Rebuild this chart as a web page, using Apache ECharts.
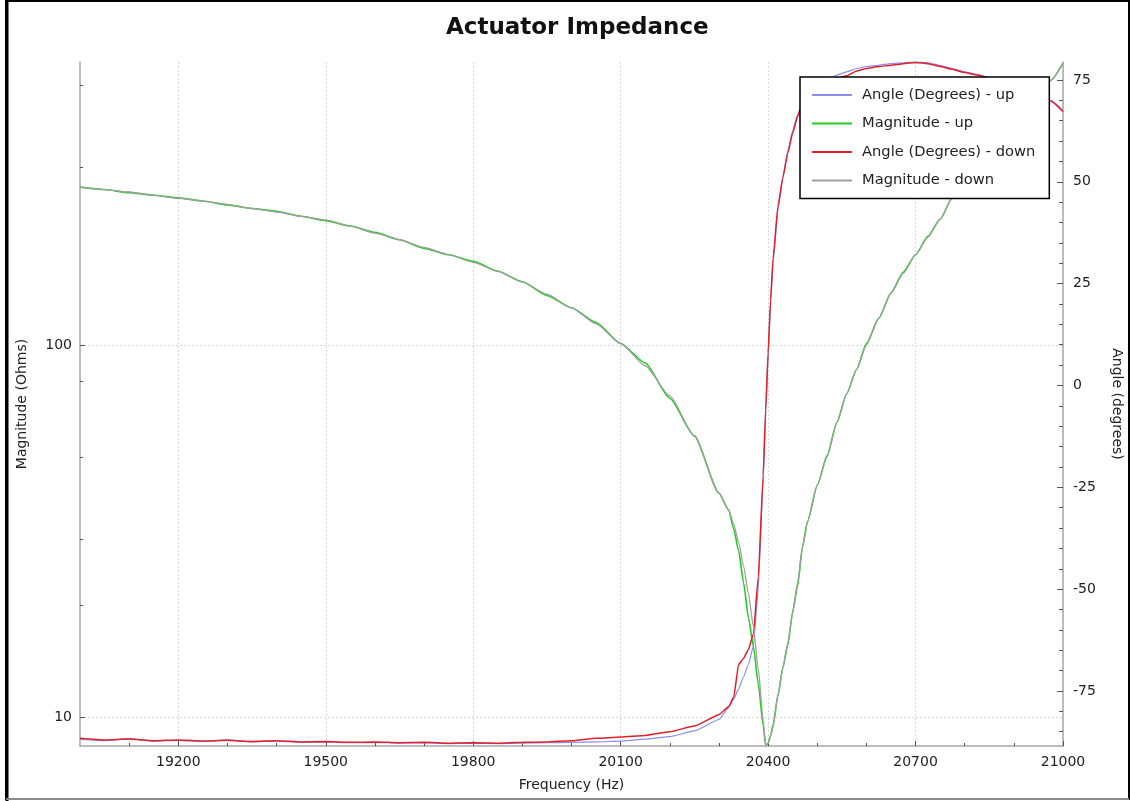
<!DOCTYPE html>
<html><head><meta charset="utf-8">
<script src="https://cdn.jsdelivr.net/npm/echarts@6/dist/echarts.min.js"></script>
<style>html,body{margin:0;padding:0;background:#fff}#c{width:1130px;height:801px}</style>
</head><body><div id="c"></div>
<script>
// ---- data ----
const freq = [19000,19050,19100,19150,19200,19250,19300,19350,19400,19450,19500,19550,19600,19650,19700,19750,19800,19850,19900,19950,20000,20050,20100,20150,20200,20250,20300,
  20320,20330,20340,20350,20360,20370,20380,20390,20395,20400,20405,20410,20420,20430,20440,20450,20460,20470,20480,
  20500,20520,20540,20560,20580,20600,
  20625,20650,20675,20700,20725,20750,20775,20800,20825,20850,20875,20900,20925,20950,20975,21000];

const angleUp = [-86.9,-87.2,-86.7,-87.3,-87.1,-87.4,-87.0,-87.5,-87.3,-87.6,-87.5,-87.7,-87.6,-87.8,-87.7,-87.9,-87.8,-87.9,-87.8,-87.7,-87.6,-87.5,-87.3,-86.8,-86.2,-84.8,-82.0,
  -79.0,-77.0,-74.5,-71.5,-68.5,-64.0,-50.0,-23.0,-7.0,7.0,20.0,30.0,43.0,51.0,57.5,62.5,66.5,69.5,71.5,
  73.5,75.0,76.2,77.0,77.8,78.3,
  78.6,79.0,79.2,79.5,79.2,78.6,77.8,77.0,76.3,75.6,74.6,73.6,72.5,71.2,70.0,67.5];

const magnitudeUp = [266,262,257,253,249,244,238,233,229,222,216,209,201,192,182,175,168,158,148,136,126,115,101,89.5,72,57,40,
  36,32,28,23,18.5,15.5,12.3,9.5,8.4,8.5,8.9,9.5,11.4,13.6,15.6,19.2,22.5,28.8,33.5,
  42,50.5,62,74,86,101,
  118,138,157,175,196,218,249,275,302,331,363,398,432,468,515,573];

const angleDown = [-86.6,-87.0,-86.8,-87.2,-87.0,-87.3,-87.1,-87.4,-87.2,-87.5,-87.4,-87.6,-87.5,-87.7,-87.6,-87.8,-87.7,-87.8,-87.6,-87.5,-87.2,-86.6,-86.3,-85.9,-85.0,-83.6,-80.8,
  -78.8,-76.5,-68.5,-67.0,-64.8,-61.0,-47.0,-22.0,-6.0,8.0,21.0,31.0,44.0,51.0,57.0,62.0,66.0,69.0,71.0,
  73.0,74.3,75.3,76.0,77.2,77.8,
  78.3,78.6,79.0,79.3,79.0,78.3,77.6,76.8,76.2,75.5,74.5,73.5,72.3,71.0,69.8,67.2];

const magnitudeDown = [266,262,258,253,248,244,239,233,228,222,217,209,200,192,183,175,167,158,148,137,126,114,101,88,73,57,40,
  36,33,29.5,25.5,21.5,17.5,13.5,9.8,8.4,8.5,8.9,9.4,11.5,13.5,15.8,19,23,28.5,33.5,
  42,50,62,74,86,100,
  118,138,156,175,195,218,250,275,302,331,363,398,432,468,515,573];

const freqTickLabels = [19200,19500,19800,20100,20400,20700,21000];
const magnitudeTickLabels = [10,100];
const magnitudeMinorTicks = [20,30,50,80,300,500];
const angleTickLabels = [-75,-50,-25,0,25,50,75];

// ---- axis ranges ----
const freqMin = 19000, freqMax = 21000;
const magMin = 8.36, magMax = 577;
const angMin = -88.5, angMax = 79.4;

const freqMinor = [];
for (let f = 19100; f <= 21000; f += 100) freqMinor.push(f);
const angMinor = [];
for (let a = -85; a <= 75; a += 5) angMinor.push(a);

const L = Math.log10;
const pairs = (vals, tf) => freq.map((f, i) => [f, tf ? tf(vals[i]) : vals[i]]);

const font = 'DejaVu Sans';
const txt = '#222';
const axisGrey = '#a8a8a8';

const chart = echarts.init(document.getElementById('c'), null, {renderer: 'canvas'});
chart.setOption({
  animation: false,
  backgroundColor: '#fff',
  textStyle: {fontFamily: font},
  title: {
    text: 'Actuator Impedance', left: 441, top: 12,
    textStyle: {fontFamily: font, fontSize: 23, fontWeight: 'bold', color: '#111'}
  },
  graphic: [{
    type: 'rect', silent: true, z: 100,
    shape: {x: 6, y: 1, width: 1123, height: 798},
    style: {fill: 'none', stroke: '#000', lineWidth: 2}
  }, {
    type: 'line', silent: true, z: 101,
    shape: {x1: 7, y1: 0, x2: 7, y2: 801},
    style: {stroke: '#000', lineWidth: 3}
  }, {
    type: 'line', silent: true, z: 101,
    shape: {x1: 6, y1: 799, x2: 1129, y2: 799},
    style: {stroke: '#8a8a8a', lineWidth: 2}
  }],
  legend: {
    orient: 'vertical', left: 800, top: 77,
    backgroundColor: '#fff', borderColor: '#000', borderWidth: 1.5,
    padding: [10, 14, 10, 12],
    icon: 'rect',
    itemWidth: 40, itemHeight: 2, itemGap: 12.5,
    textStyle: {fontFamily: font, fontSize: 14.7, color: txt, lineHeight: 16, padding: [0, 0, 0, 5]},
    data: ['Angle (Degrees) - up', 'Magnitude - up', 'Angle (Degrees) - down', 'Magnitude - down']
  },
  grid: {left: 80, right: 67, top: 62, bottom: 55, outerBoundsMode: 'none', containLabel: false},
  xAxis: [{
    type: 'value', min: freqMin, max: freqMax,
    name: 'Frequency (Hz)', nameLocation: 'middle', nameGap: 32,
    nameTextStyle: {fontFamily: font, fontSize: 14, color: txt},
    axisLine: {show: true, onZero: false, lineStyle: {color: axisGrey, width: 1.5}},
    axisTick: {show: true, inside: true, length: 5, customValues: freqTickLabels, lineStyle: {color: '#555'}},
    axisLabel: {customValues: freqTickLabels, fontFamily: font, fontSize: 14, color: txt, margin: 9,
      formatter: v => String(v)},
    splitLine: {show: true, lineStyle: {color: '#d8d8d8', type: [2, 2], width: 1}}
  }, {
    type: 'value', min: freqMin, max: freqMax, position: 'bottom',
    axisLine: {show: false, onZero: false},
    axisTick: {show: true, inside: true, length: 3, customValues: freqMinor, lineStyle: {color: '#555'}},
    axisLabel: {show: false}, splitLine: {show: false}
  }],
  yAxis: [{
    type: 'value', position: 'left', min: L(magMin), max: L(magMax),
    name: 'Magnitude (Ohms)', nameLocation: 'middle', nameGap: 51,
    nameTextStyle: {fontFamily: font, fontSize: 14, color: txt},
    axisLine: {show: true, onZero: false, lineStyle: {color: axisGrey, width: 1.5}},
    axisTick: {show: true, inside: true, length: 5, customValues: magnitudeTickLabels.map(L), lineStyle: {color: '#555'}},
    axisLabel: {customValues: magnitudeTickLabels.map(L), fontFamily: font, fontSize: 14, color: txt, margin: 8,
      formatter: v => String(Math.round(Math.pow(10, v)))},
    splitLine: {show: true, lineStyle: {color: '#d8d8d8', type: [2, 2], width: 1}}
  }, {
    type: 'value', position: 'right', min: angMin, max: angMax,
    name: 'Angle (degrees)', nameLocation: 'middle', nameGap: 47, nameRotate: -90,
    nameTextStyle: {fontFamily: font, fontSize: 14, color: txt},
    axisLine: {show: true, onZero: false, lineStyle: {color: axisGrey, width: 1.5}},
    axisTick: {show: true, inside: true, length: 6, customValues: angleTickLabels, lineStyle: {color: '#555'}},
    axisLabel: {customValues: angleTickLabels, fontFamily: font, fontSize: 14, color: txt, margin: 10},
    splitLine: {show: false}
  }, {
    type: 'value', position: 'left', min: L(magMin), max: L(magMax),
    axisLine: {show: false, onZero: false},
    axisTick: {show: true, inside: true, length: 3, customValues: magnitudeMinorTicks.map(L), lineStyle: {color: '#555'}},
    axisLabel: {show: false}, splitLine: {show: false}
  }, {
    type: 'value', position: 'right', min: angMin, max: angMax,
    axisLine: {show: false, onZero: false},
    axisTick: {show: true, inside: true, length: 4, customValues: angMinor, lineStyle: {color: '#555'}},
    axisLabel: {show: false}, splitLine: {show: false}
  }],
  series: [
    {name: 'Angle (Degrees) - up', type: 'line', yAxisIndex: 1, data: pairs(angleUp), symbol: 'none',
      smooth: 0.15, smoothMonotone: 'x',
      lineStyle: {color: '#8c8cf0', width: 1.2}, itemStyle: {color: '#8c8cf0'}},
    {name: 'Magnitude - up', type: 'line', yAxisIndex: 0, data: pairs(magnitudeUp, L), symbol: 'none',
      smooth: 0.2, smoothMonotone: 'x',
      lineStyle: {color: '#22cc22', width: 1.6}, itemStyle: {color: '#22cc22'}},
    {name: 'Angle (Degrees) - down', type: 'line', yAxisIndex: 1, data: pairs(angleDown), symbol: 'none',
      smooth: 0.15, smoothMonotone: 'x',
      lineStyle: {color: '#e2202a', width: 1.5}, itemStyle: {color: '#e2202a'}},
    {name: 'Magnitude - down', type: 'line', yAxisIndex: 0, data: pairs(magnitudeDown, L), symbol: 'none',
      smooth: 0.2, smoothMonotone: 'x',
      lineStyle: {color: '#a0a0a0', width: 1.3}, itemStyle: {color: '#a0a0a0'}}
  ]
});
</script></body></html>
